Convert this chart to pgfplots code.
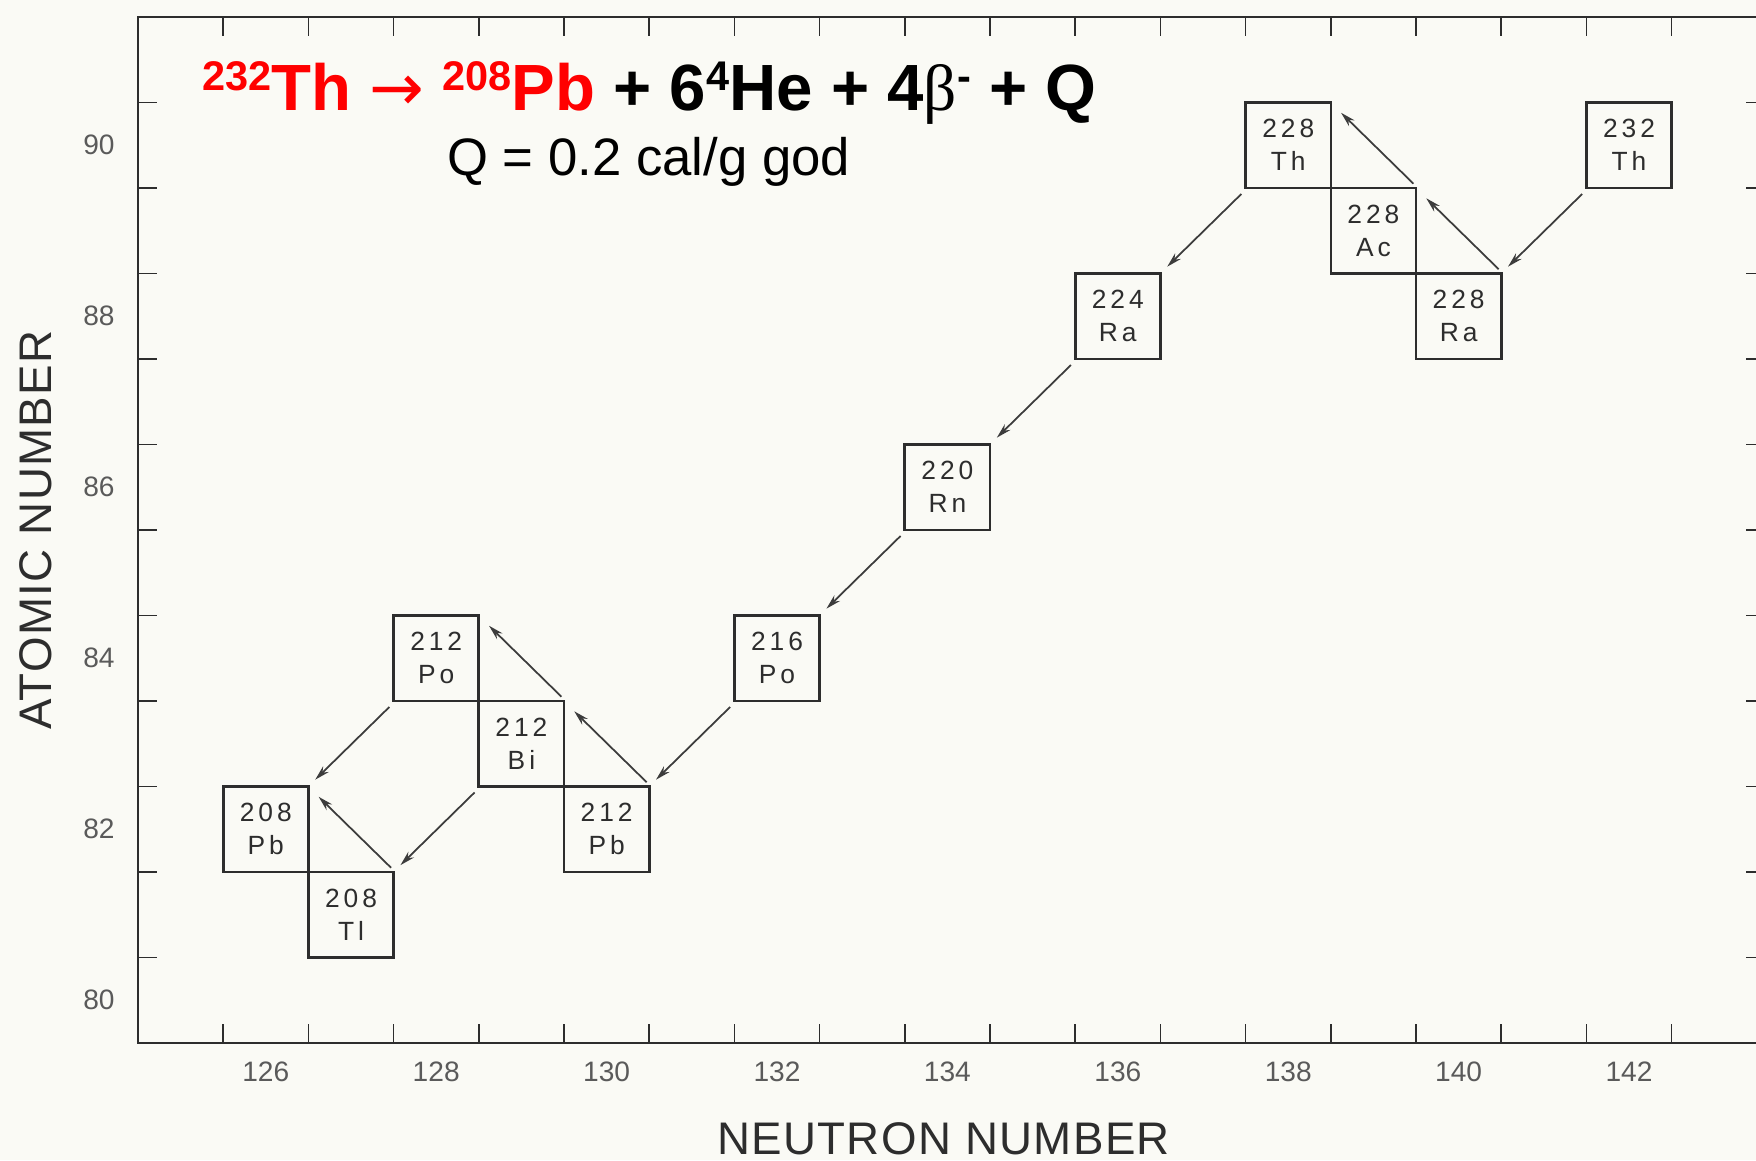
\documentclass[border=0pt]{standalone}
\usepackage{fontspec}
\setmainfont{Liberation Sans}
\newfontfamily\symfont{DejaVu Sans}
\newfontfamily\seriffont{Liberation Serif}
\newfontfamily\boxfont[LetterSpace=15]{Liberation Sans}
\newfontfamily\axfont[LetterSpace=3]{Liberation Sans}
\usepackage{pgfplots}
\pgfplotsset{compat=1.18}
\usepackage{pgfplotstable}
\usetikzlibrary{arrows.meta}

\definecolor{paper}{RGB}{250,250,245}
\definecolor{ink}{RGB}{45,45,45}
\definecolor{lightink}{RGB}{90,90,90}
\definecolor{arrowink}{RGB}{60,60,60}

% superscript for the decay equation
\newcommand\sups[1]{\raisebox{5.7pt}{\fontsize{11.8}{12}\selectfont #1}}

% nuclides of the thorium series: neutron number, atomic number, mass number, symbol
\pgfplotstableread{
N   Z  A   El
142 90 232 Th
140 88 228 Ra
139 89 228 Ac
138 90 228 Th
136 88 224 Ra
134 86 220 Rn
132 84 216 Po
130 82 212 Pb
129 83 212 Bi
128 84 212 Po
127 81 208 Tl
126 82 208 Pb
}\nuclides

% alpha decays: start point and displacement (N-2, Z-2)
\pgfplotstableread{
x      y      u     v
141.45 89.43 -0.87 -0.85
137.45 89.43 -0.87 -0.85
135.45 87.43 -0.87 -0.85
133.45 85.43 -0.87 -0.85
131.45 83.43 -0.87 -0.85
128.45 82.43 -0.87 -0.85
127.45 83.43 -0.87 -0.85
}\alphadecay

% beta-minus decays: start point and displacement (N-1, Z+1)
\pgfplotstableread{
x      y      u     v
140.47 88.55 -0.85 0.83
139.47 89.55 -0.85 0.83
130.47 82.55 -0.85 0.83
129.47 83.55 -0.85 0.83
127.47 81.55 -0.85 0.83
}\betadecay

\begin{document}
\begin{tikzpicture}
\fill[paper] (0,0) rectangle (175.6mm,116mm);
\begin{axis}[
  at={(13.8mm,11.7mm)}, anchor=south west,
  x=8.52mm, y=8.55mm,
  xmin=124.5, xmax=143.6, ymin=79.5, ymax=91.5,
  axis line style={ink, line width=0.8pt},
  xtick={126,128,...,142}, ytick={80,82,...,90},
  minor xtick={125.5,126.5,...,142.5},
  minor ytick={80.5,81.5,...,90.5},
  major tick length=0pt, minor tick length=1.9mm,
  tick style={ink, line width=0.45pt},
  tick align=inside,
  /pgf/number format/assume math mode=true,
  /pgf/number format/set thousands separator={},
  ticklabel style={font=\fontsize{8}{9}\selectfont, text=lightink},
  xticklabel style={yshift=-0.6mm},
  yticklabel style={xshift=-1.1mm},
  xlabel={NEUTRON NUMBER}, ylabel={ATOMIC NUMBER},
  every axis x label/.style={at={(axis description cs:0.495,0)}, anchor=center,
    yshift=-9.6mm, font=\axfont\fontsize{13}{15}\selectfont, text=ink},
  every axis y label/.style={at={(axis description cs:-0.0627,0.5)}, anchor=center,
    rotate=90, font=\axfont\fontsize{13}{15}\selectfont, text=ink},
  clip=false,
]
% decay arrows
\addplot[arrowink, line width=0.5pt, no markers,
  -{Stealth[length=1.5mm, width=0.8mm]},
  quiver={u=\thisrow{u}, v=\thisrow{v}}]
  table[x=x, y=y] {\alphadecay};
\addplot[arrowink, line width=0.5pt, no markers,
  -{Stealth[length=1.5mm, width=0.8mm]},
  quiver={u=\thisrow{u}, v=\thisrow{v}}]
  table[x=x, y=y] {\betadecay};
% one cell per nuclide: mass number above, element symbol below
\addplot[draw=none, mark=none,
  point meta=explicit symbolic,
  visualization depends on={\thisrow{A}\as\massnum},
  nodes near coords={\pgfmathprintnumber[int trunc]{\massnum}\\\pgfplotspointmeta},
  every node near coord/.style={anchor=center, draw=ink, line width=0.75pt,
    minimum width=8.52mm, minimum height=8.55mm, inner sep=0pt,
    align=center, text=ink, font=\boxfont\fontsize{7.5}{9.4}\selectfont},
] table[x=N, y=Z, meta=El] {\nuclides};
% decay equation
\node[anchor=base west, inner sep=0pt] at (axis cs:125.25,90.41)
  {\bfseries\fontsize{18.6}{20}\selectfont
   \textcolor{red}{\sups{232}Th {\symfont\mdseries →} \sups{208}Pb}
   + 6\sups{4}He + 4{\seriffont\mdseries β}\sups{-} + Q};
\node[anchor=base west, inner sep=0pt] at (axis cs:128.12,89.65)
  {\fontsize{15}{17}\selectfont Q = 0.2 cal/g god};
\end{axis}
\pgfresetboundingbox
\path[use as bounding box] (0,0) rectangle (175.6mm,116mm);
\end{tikzpicture}
\end{document}
